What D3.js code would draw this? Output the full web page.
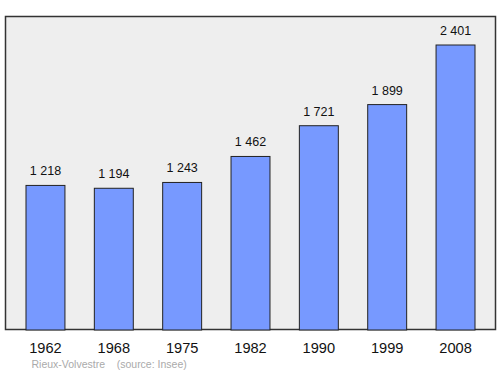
<!DOCTYPE html>
<html>
<head>
<meta charset="utf-8">
<script src="https://cdn.jsdelivr.net/npm/d3@7"></script>
<style>
  body { margin: 0; background: #fff; }
  text { font-family: "Liberation Sans", Arial, sans-serif; }
</style>
</head>
<body>
<div id="chart"></div>
<script>
// population data
var years = ["1962", "1968", "1975", "1982", "1990", "1999", "2008"];
var population = [1218, 1194, 1243, 1462, 1721, 1899, 2401];
var valueLabels = ["1 218", "1 194", "1 243", "1 462", "1 721", "1 899", "2 401"];

var svgWidth = 500;
var svgHeight = 374;

var svg = d3.select("#chart")
  .append("svg")
  .attr("width", svgWidth)
  .attr("height", svgHeight);

// frame
svg.append("rect")
  .attr("x", 5.5)
  .attr("y", 16.5)
  .attr("width", 490)
  .attr("height", 313)
  .attr("fill", "#eeeeee")
  .attr("stroke", "#333")
  .attr("stroke-width", 1.5);

var xScale = d3.scaleBand()
  .domain(years)
  .range([11.3, 489.7])
  .paddingInner(0.43)
  .paddingOuter(0.215);

var yScale = d3.scaleLinear()
  .domain([0, 2401])
  .range([330, 45]);

var data = years.map(function(y, i) {
  return { year: y, value: population[i], label: valueLabels[i] };
});

svg.selectAll("rect.bar")
  .data(data)
  .enter()
  .append("rect")
  .attr("class", "bar")
  .attr("x", d => xScale(d.year))
  .attr("y", d => yScale(d.value))
  .attr("width", xScale.bandwidth())
  .attr("height", d => yScale(0) - yScale(d.value))
  .attr("fill", "#7799ff")
  .attr("stroke", "#222")
  .attr("stroke-width", 1);

// value labels
svg.selectAll("text.val")
  .data(data)
  .enter()
  .append("text")
  .attr("class", "val")
  .attr("x", d => xScale(d.year) + xScale.bandwidth() / 2)
  .attr("y", d => yScale(d.value) - 10)
  .attr("text-anchor", "middle")
  .attr("font-size", 12.5)
  .attr("fill", "#111")
  .text(d => d.label);

// year labels
svg.selectAll("text.year")
  .data(data)
  .enter()
  .append("text")
  .attr("class", "year")
  .attr("x", d => xScale(d.year) + xScale.bandwidth() / 2)
  .attr("y", 353)
  .attr("text-anchor", "middle")
  .attr("font-size", 14.6)
  .attr("fill", "#111")
  .text(d => d.year);

// footer
svg.append("text")
  .attr("x", 31.5)
  .attr("y", 367.5)
  .attr("font-size", 10.5)
  .attr("fill", "#aaa")
  .attr("xml:space", "preserve")
  .style("white-space", "pre")
  .text("Rieux-Volvestre    (source: Insee)");
</script>
</body>
</html>
